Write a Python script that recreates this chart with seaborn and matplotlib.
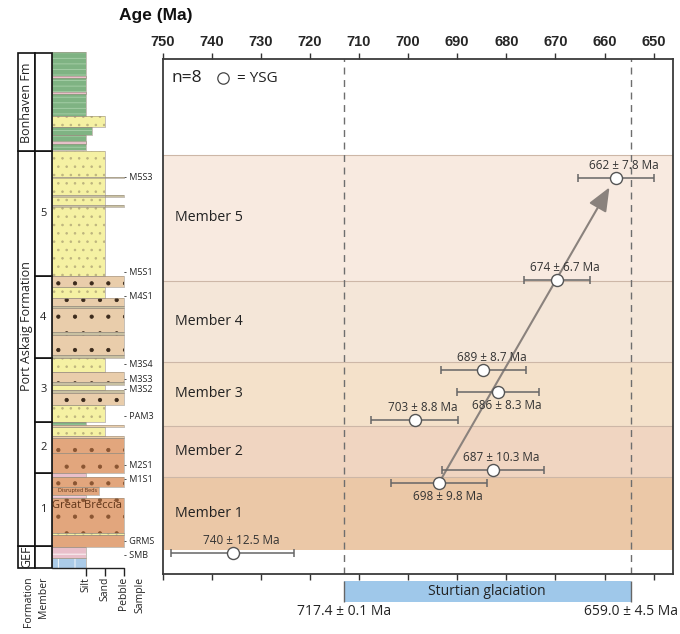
import numpy as np
import pandas as pd
import matplotlib
matplotlib.use('Agg')
import matplotlib.pyplot as plt
import matplotlib.transforms as mtransforms
import seaborn as sns

sns.set_theme(style='white')
plt.rcParams['font.family'] = ['Open Sans', 'DejaVu Sans']
plt.rcParams['hatch.linewidth'] = 0.6

# ---------------- data ----------------
# youngest single grain ages (Ma), 1 sigma, and stratigraphic height of each sample
ages = [740, 698, 687, 703, 686, 689, 674, 662]
age_err = [12.5, 9.8, 10.3, 8.8, 8.3, 8.7, 6.7, 7.8]
sample_height = [19.6, 89.6, 102.3, 152.6, 180.3, 202.0, 292.7, 394.4]
label_side = ['above', 'below', 'above', 'above', 'below', 'above', 'above', 'above']

# members of the Port Askaig Formation (height units shared with the column)
members = ['Member 1', 'Member 2', 'Member 3', 'Member 4', 'Member 5']
member_bounds = [22.3, 95.6, 146.7, 210.7, 291.8, 417.3]
member_colors = ['#ebc8a7', '#f0d5c1', '#f4e1ca', '#f4e6d8', '#f8eae0']

# Sturtian glaciation bracket
glaciation = [717.4, 659.0]
glaciation_err = [0.1, 4.5]

age_ticks = [750, 740, 730, 720, 710, 700, 690, 680, 670, 660, 650]
tick_shift = 4.3  # tick labels in the published figure sit ~4 Ma off the plotted dates

trend_start = (698, 89.6)
trend_end = (663.3, 384.9)

# formations in the log
formations = ['GEF', 'Port Askaig Formation', 'Bonhaven Fm']
formation_bounds = [0, 22.3, 417.3, 515.6]

# lithological log: base, top, lithology, grain size (1 silt, 2 sand, 3 pebble)
beds = [
    (0, 10, 'limestone', 1),
    (10, 21.6, 'dolomite', 1),
    (21.6, 33.3, 'diamictite', 3),
    (33.3, 35, 'sandstone', 3),
    (35, 70, 'diamictite', 3),
    (70, 73.3, 'dolomite', 1),
    (73.3, 81.6, 'diamictite', 1.7),
    (81.6, 91.6, 'diamictite', 3),
    (91.6, 95.6, 'dolomite', 1),
    (95.6, 115, 'diamictite', 3),
    (115, 130, 'diamictite', 3),
    (130, 132.3, 'conglomerate', 3),
    (132.3, 141.6, 'sandstone', 2),
    (141.6, 143.3, 'conglomerate', 3),
    (143.3, 146.6, 'mudstone', 1),
    (146.6, 163.3, 'sandstone', 2),
    (163.3, 175, 'conglomerate', 3),
    (175, 178.3, 'thin', 3),
    (178.3, 183.3, 'sandstone', 2),
    (183.3, 186.6, 'thin', 3),
    (186.6, 196.6, 'conglomerate', 3),
    (196.6, 210.6, 'sandstone', 2),
    (210.6, 213.3, 'thin', 3),
    (213.3, 233.3, 'conglomerate', 3),
    (233.3, 236.6, 'thin', 3),
    (236.6, 260, 'conglomerate', 3),
    (260, 262.3, 'thin', 3),
    (262.3, 270, 'conglomerate', 3),
    (270, 281.6, 'sandstone', 2),
    (281.6, 292.3, 'conglomerate', 3),
    (292.3, 417.3, 'sandstone', 2),
    (361.5, 363.5, 'thin', 3),
    (371.5, 373.5, 'thin', 3),
    (390.0, 391.5, 'thin', 3),
    (418.3, 433.3, 'mudstone', 1),
    (424.6, 426.8, 'dolomite', 1),
    (433.3, 441.6, 'mudstone', 1.35),
    (441.6, 452.3, 'sandstone', 2),
    (452.3, 516.0, 'mudstone', 1),
    (474.0, 476.3, 'dolomite', 1),
    (490.0, 492.3, 'dolomite', 1),
]

sample_names = ['M5S3', 'M5S1', 'M4S1', 'M3S4', 'M3S3', 'M3S2', 'PAM3', 'M2S1', 'M1S1', 'GRMS', 'SMB']
sample_levels = [390.6, 295.6, 271.6, 203.3, 188.3, 178.3, 151.6, 102.6, 88.3, 26.6, 13.3]

lith_style = {
    'sandstone':    dict(fc='#f5f1a3', hatch='..', hc='#bdb47e'),
    'conglomerate': dict(fc='#e9cdab', hatch='.', hc='#3b2a1c'),
    'diamictite':   dict(fc='#e2a67d', hatch='.', hc='#8a5532'),
    'mudstone':     dict(fc='#7fb383', hatch='---', hc='#a9d1aa'),
    'dolomite':     dict(fc='#e9bfca', hatch='--', hc='#ffffff'),
    'limestone':    dict(fc='#abcbe8', hatch='+', hc='#ffffff'),
    'thin':         dict(fc='#c9c1a2', hatch=None, hc='#c9c1a2'),
}

df = pd.DataFrame({'age': ages, 'err': age_err, 'height': sample_height, 'side': label_side})

# ---------------- figure ----------------
W, H = 680, 634
fig = plt.figure(figsize=(W / 100, H / 100), dpi=100)

# ---- stratigraphic column ----
col = fig.add_axes([0, 0, 160 / W, (H - 30) / H])
col.set_xlim(0, 160)
col.set_ylim(568.3 - 634, 568.3 - 30)
col.axis('off')

x_form, x_mem, x_lith = 18.3, 35.0, 51.7
box_w = 16.7


def grain_x(g):
    return x_lith + 15.4 + 18.8 * g


for base, top, lith, g in beds:
    st = lith_style[lith]
    w = grain_x(g) - x_lith
    col.bar(x_lith, top - base, width=w, bottom=base, align='edge',
            color=st['fc'], linewidth=0, zorder=2)
    if st['hatch']:
        col.bar(x_lith, top - base, width=w, bottom=base, align='edge',
                color='none', edgecolor=st['hc'], hatch=st['hatch'], linewidth=0, zorder=3)
    col.bar(x_lith, top - base, width=w, bottom=base, align='edge',
            color='none', edgecolor='#9a8f80', linewidth=0.4, zorder=4)

# formation and member boxes
for lo, hi, name in zip(formation_bounds[:-1], formation_bounds[1:], formations):
    col.bar(x_form, hi - lo, width=box_w, bottom=lo, align='edge',
            color='white', edgecolor='#111111', linewidth=1.2, zorder=5)
mem_edges = [formation_bounds[0]] + member_bounds + [formation_bounds[-1]]
for lo, hi in zip(mem_edges[:-1], mem_edges[1:]):
    col.bar(x_mem, hi - lo, width=box_w, bottom=lo, align='edge',
            color='white', edgecolor='#111111', linewidth=1.2, zorder=5)

form_label_y = {'GEF': 11.1, 'Port Askaig Formation': 242, 'Bonhaven Fm': 466}
for name in formations:
    col.text(x_form + box_w / 2, form_label_y[name], name, rotation=90,
             ha='center', va='center', fontsize=9, color='#222222', zorder=6)
for i, (lo, hi) in enumerate(zip(member_bounds[:-1], member_bounds[1:])):
    col.text(x_mem + box_w / 2, (lo + hi) / 2, str(i + 1),
             ha='center', va='center', fontsize=8, color='#222222', zorder=6)

col.text(87, 62.3, 'Great Breccia', ha='center', va='center', fontsize=8,
         color='#5e3418', zorder=6)
col.text(77.5, 77.6, 'Disrupted Beds', ha='center', va='center', fontsize=4,
         color='#5e3418', zorder=6)

# grain size scale
col.plot([x_lith, grain_x(3)], [0, 0], color='#222222', lw=1.0, zorder=6)
col.vlines([grain_x(g) for g in (1, 2, 3)], -8, 0, color='#222222', lw=1.0, zorder=6)
for x, lab in zip([28.3, 43.3, grain_x(1), grain_x(2), grain_x(3), 140],
                  ['Formation', 'Member', 'Silt', 'Sand', 'Pebble', 'Sample']):
    col.text(x, -8.5, lab, rotation=90, ha='center', va='top', fontsize=7.5, color='#222222')

for name, lvl in zip(sample_names, sample_levels):
    col.text(124, lvl, '- ' + name, ha='left', va='center', fontsize=6.5, color='#222222')

# ---- age panel ----
ax = fig.add_axes([162.6 / W, (H - 573.5) / H, 510.2 / W, 515 / H])

for (lo, hi), c in zip(zip(member_bounds[:-1], member_bounds[1:]), member_colors):
    ax.axhspan(lo, hi, color=c, lw=0, zorder=0)
for b in member_bounds[1:]:
    ax.axhline(b, color='#cdb7a7', lw=0.8, zorder=1)

blend = mtransforms.blended_transform_factory(ax.transAxes, ax.transData)
for name, lo, hi in zip(members, member_bounds[:-1], member_bounds[1:]):
    ax.text(0.024, (lo + hi) / 2, name, transform=blend, ha='left', va='center',
            fontsize=10.2, color='#222222')

for g in glaciation:
    ax.axvline(g, ls=(0, (5, 4)), color='#6e6e6e', lw=1, zorder=1)

ax.annotate('', xy=trend_end, xytext=trend_start, zorder=3,
            arrowprops=dict(arrowstyle='-|>,head_length=1.2,head_width=0.5',
                            color='#8a827d', lw=1.5, shrinkA=0, shrinkB=0))

ax.errorbar(df['age'], df['height'], xerr=df['err'], fmt='none', ecolor='#666666',
            elinewidth=1.1, capsize=3, capthick=1.1, zorder=4)
sns.scatterplot(data=df, x='age', y='height', ax=ax, s=75, color='white',
                edgecolor='#555555', linewidth=1.0, zorder=5, legend=False)

for _, r in df.iterrows():
    dy = 9 if r['side'] == 'above' else -10
    ax.annotate(f"{int(r['age'])} \u00b1 {r['err']} Ma", (r['age'], r['height']),
                xytext=(6, dy), textcoords='offset points', ha='center', va='center',
                fontsize=8.5, color='#333333', zorder=6)

# glaciation bar below the panel
ax.barh(-19.2, glaciation[1] - glaciation[0], left=glaciation[0], height=21,
        color='#9fc8ea', linewidth=0, clip_on=False, zorder=2)
ax.vlines(glaciation, -29.7, -8.7, color='#666666', lw=1, clip_on=False)
ax.text(np.mean(glaciation), -19.2, 'Sturtian glaciation', ha='center', va='center',
        fontsize=10, color='#222222')
for g, e in zip(glaciation, glaciation_err):
    ax.text(g, -39.5, f'{g:.1f} \u00b1 {e} Ma', ha='center', va='center',
            fontsize=10, color='#222222')

ax.text(0.018, 0.962, 'n=8', transform=ax.transAxes, ha='left', va='center',
        fontsize=12.5, color='#222222')
ax.plot([0.119], [0.962], 'o', transform=ax.transAxes, ms=8.2, mfc='white',
        mec='#444444', mew=0.9)
ax.text(0.145, 0.962, '= YSG', transform=ax.transAxes, ha='left', va='center',
        fontsize=11, color='#222222')

ax.set_xlim(750 + tick_shift, 646.1 + tick_shift)
ax.set_ylim(-1.2, 513.8)
ax.set_xticks([t + tick_shift for t in age_ticks])
ax.set_xticklabels([str(t) for t in age_ticks])
ax.set_yticks([])
ax.set_xlabel('')
ax.set_ylabel('')
ax.tick_params(axis='x', which='both', direction='out', length=4, width=1,
               color='#333333', top=True, bottom=True, labeltop=True,
               labelbottom=False, labelsize=10.5, pad=3)
for lab in ax.get_xticklabels():
    lab.set_fontweight('bold')
    lab.set_family('Liberation Sans')
for s in ax.spines.values():
    s.set_color('#3a3a3a')
    s.set_linewidth(1.3)

fig.text(155.5 / W, 1 - 15.7 / H, 'Age (Ma)', ha='center', va='center',
         fontsize=12.5, fontweight='bold', family='Liberation Sans', color='#111111')

fig.savefig('out.png', dpi=100)
